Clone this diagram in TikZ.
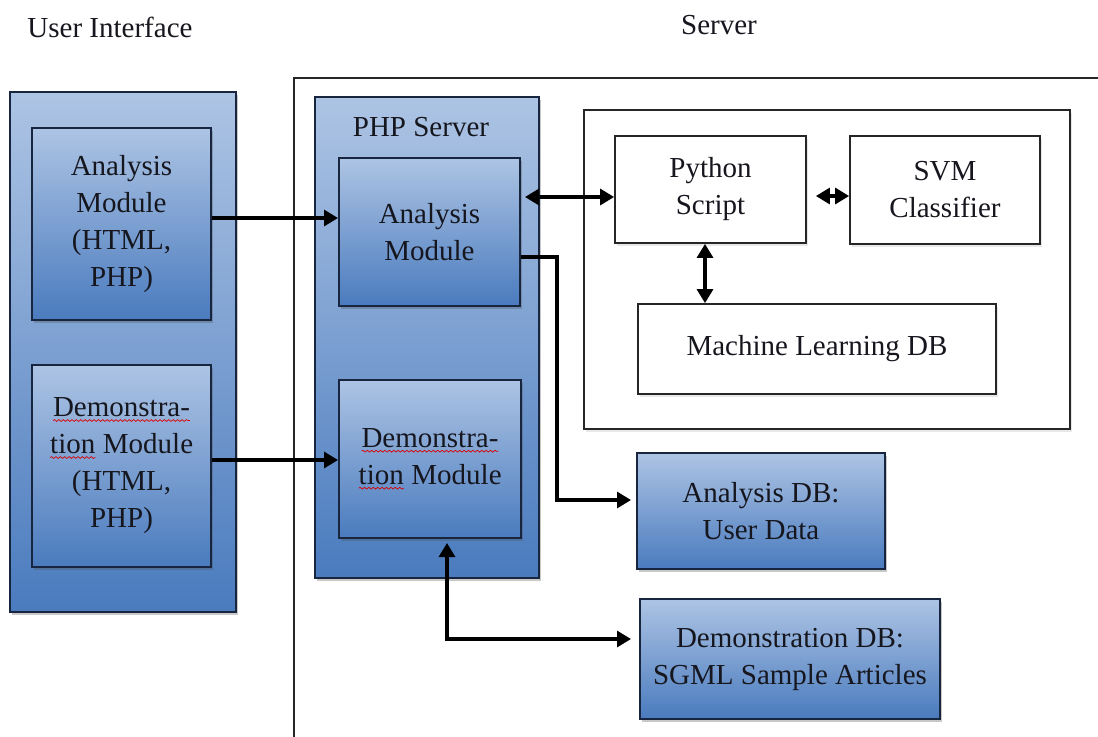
\documentclass[tikz,border=0pt]{standalone}
\usepackage{fontspec}
\setmainfont{Liberation Serif}
\usetikzlibrary{arrows.meta,shadows,decorations.pathmorphing}

\definecolor{boxtop}{HTML}{ADC4E4}
\definecolor{boxbot}{HTML}{4A7BBE}
\definecolor{boxline}{HTML}{18253F}
\definecolor{paneline}{HTML}{262626}
\definecolor{inktext}{HTML}{16161E}

% red wavy spell-check mark under a word
\newcommand{\spellmark}[1]{\tikz[baseline=(w.base)]{%
  \node[inner sep=0pt, outer sep=0pt, minimum width=0pt, minimum height=0pt,
        draw=none, fill=none] (w) {#1};
  \draw[red!85!black, line width=0.35pt, decorate,
        decoration={snake, amplitude=0.45pt, segment length=2.2pt}]
    ([yshift=-1.8pt]w.base west) -- ([yshift=-1.8pt]w.base east);}}

\begin{document}
\begin{tikzpicture}[x=0.5pt,y=-0.5pt,>={Triangle[length=7pt,width=8pt]},semithick]
        \tikzstyle{bluebox}=[
            rectangle,
            draw=boxline,
            line width=1pt,
            top color=boxtop,
            bottom color=boxbot,
            align=center,
            text=inktext,
            font=\fontsize{14.5}{18.5}\selectfont,
            drop shadow={shadow xshift=1.2pt, shadow yshift=-1.5pt, opacity=0.3, fill=black!70}
        ]
        \tikzstyle{whitebox}=[
            rectangle,
            draw=paneline,
            line width=0.9pt,
            fill=white,
            align=center,
            text=inktext,
            font=\fontsize{14.5}{18.5}\selectfont,
            drop shadow={shadow xshift=1.2pt, shadow yshift=-1.5pt, opacity=0.15, fill=black!60}
        ]
        \tikzstyle{caption}=[
            text=inktext,
            font=\fontsize{14.5}{18.5}\selectfont
        ]
        \tikzstyle{link}=[line width=1.6pt, draw=black]

        \useasboundingbox (0,0) rectangle (1098,736);
        \clip (0,0) rectangle (1098,736);

        \node[caption] (uiTitle) at (110,27) {User Interface};
        \node[caption] (serverTitle) at (719,25) {Server};

        % outer frames
        \node[whitebox, anchor=north west, minimum width=450pt, minimum height=360pt] (server) at (293,77) {};
        \node[bluebox, minimum width=113pt, minimum height=260pt] (ui) at (123,352) {};
        \node[bluebox, minimum width=112pt, minimum height=240.5pt] (php) at (427,337.5) {};
        \node[whitebox, minimum width=243pt, minimum height=159.5pt] (mlPane) at (827,269.5) {};
        \node[caption] (phpLabel) at (421,127) {PHP Server};

        % user interface modules
        \node[bluebox, minimum width=89.5pt, minimum height=96pt] (uiAna) at (121.5,224)
            {Analysis\\Module\\(HTML,\\PHP)};
        \node[bluebox, minimum width=89.5pt, minimum height=101pt] (uiDemo) at (121.5,466)
            {\spellmark{Demonstra-}\\\spellmark{tion} Module\\(HTML,\\PHP)};

        % php server modules
        \node[bluebox, minimum width=90.5pt, minimum height=74pt] (phpAna) at (429.5,232)
            {Analysis\\Module};
        \node[bluebox, minimum width=91pt, minimum height=79pt] (phpDemo) at (430,459)
            {\spellmark{Demonstra-}\\\spellmark{tion} Module};

        % machine learning part
        \node[whitebox, minimum width=95.5pt, minimum height=53.5pt] (python) at (710.5,189.5)
            {Python\\Script};
        \node[whitebox, minimum width=95pt, minimum height=54pt] (svm) at (945,190)
            {SVM\\Classifier};
        \node[whitebox, minimum width=179pt, minimum height=45pt] (mldb) at (817,349)
            {Machine Learning DB};

        % databases
        \node[bluebox, minimum width=124pt, minimum height=58pt] (anaDB) at (761,511)
            {Analysis DB:\\User Data};
        \node[bluebox, minimum width=150pt, minimum height=60pt] (demoDB) at (790,659)
            {Demonstration DB:\\SGML Sample Articles};

        \draw[link,->] (uiAna.east |- 0,218) -- (phpAna.west |- 0,218);
        \draw[link,->] (uiDemo.east |- 0,460) -- (phpDemo.west |- 0,460);
        \draw[link,<->, shorten <=2pt] (phpAna.east |- 0,197) -- (python.west |- 0,197);
        \draw[link,<->, shorten <=4.5pt] (python.east |- 0,196) -- (svm.west |- 0,196);
        \draw[link,<->] (705,0 |- python.south) -- (705,0 |- mldb.north);
        \draw[link,->, shorten >=2.5pt] (phpAna.east |- 0,257) -- (557,257) |- (anaDB.west |- 0,500);
        \draw[link,<->, shorten <=2pt, shorten >=4pt] (447,0 |- phpDemo.south) |- (demoDB.west |- 0,639);

    \end{tikzpicture}
\end{document}
